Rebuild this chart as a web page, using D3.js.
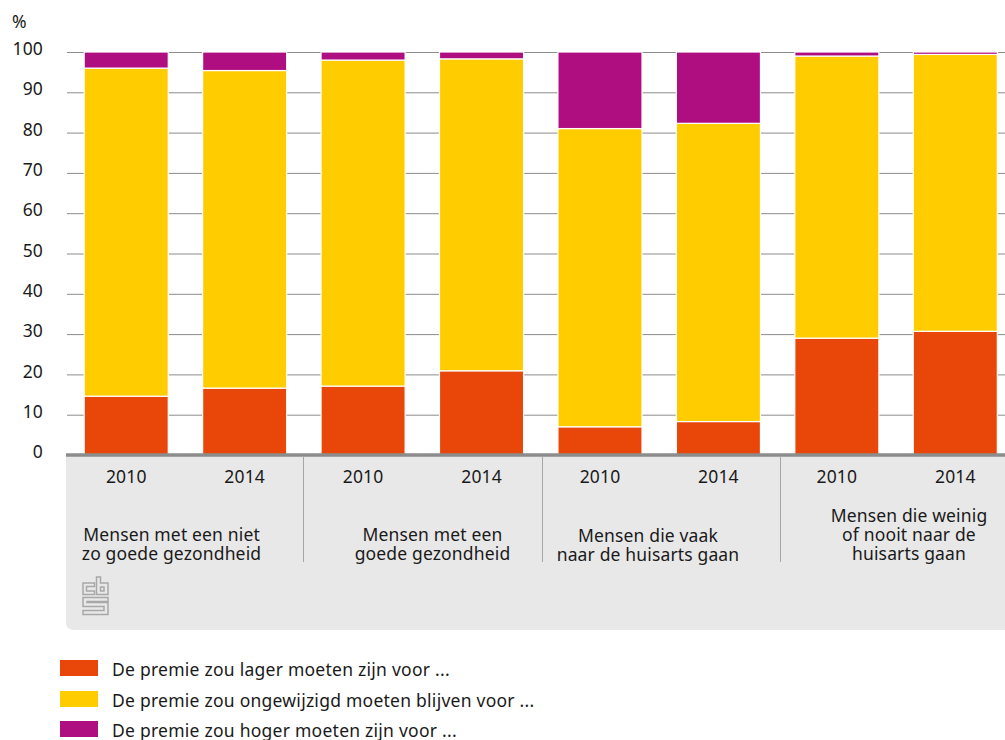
<!DOCTYPE html>
<html>
<head>
<meta charset="utf-8">
<script src="https://cdn.jsdelivr.net/npm/d3@7"></script>
<style>
  html, body { margin: 0; padding: 0; background: #fff; overflow: hidden; }
  text { font-family: "Noto Sans", sans-serif; fill: #1a1a1a; font-size: 17.5px; letter-spacing: 0.15px; }
  .legend-label { letter-spacing: 0.25px; }
</style>
</head>
<body>
<script>
// survey answers per bar, in percent
const years = ["2010", "2014", "2010", "2014", "2010", "2014", "2010", "2014"];
const lager = [14.6, 16.6, 17.1, 20.9, 7.0, 8.3, 29.0, 30.7];
const ongewijzigd = [81.4, 78.8, 80.9, 77.4, 74.0, 74.0, 70.0, 68.7];
const hoger = [4.0, 4.6, 2.0, 1.7, 19.0, 17.7, 1.0, 0.6];

const seriesNames = [
  "De premie zou lager moeten zijn voor ...",
  "De premie zou ongewijzigd moeten blijven voor ...",
  "De premie zou hoger moeten zijn voor ..."
];
const seriesColors = ["#e9460a", "#ffcc00", "#af0e80"];
const groupLabels = [
  ["Mensen met een niet", "zo goede gezondheid"],
  ["Mensen met een", "goede gezondheid"],
  ["Mensen die vaak", "naar de huisarts gaan"],
  ["Mensen die weinig", "of nooit naar de", "huisarts gaan"]
];
const yTicks = [0, 10, 20, 30, 40, 50, 60, 70, 80, 90, 100];

const width = 1005, height = 740;
const margin = { top: 52, left: 67, baseline: 455 };

const svg = d3.select("body").append("svg")
  .attr("width", width)
  .attr("height", height)
  .style("display", "block");

const xScale = d3.scaleBand()
  .domain(d3.range(years.length))
  .range([margin.left, 1014.5])
  .paddingInner(0.29)
  .paddingOuter(0.145);

const yScale = d3.scaleLinear()
  .domain([0, 100])
  .range([margin.baseline, margin.top]);

// grey panel under the axis, only the lower left corner is rounded
svg.append("path")
  .attr("d", "M66,456H1005V630H74Q66,630 66,622Z")
  .attr("fill", "#e8e8e8");

// gridlines and value labels
const yAxis = svg.append("g")
  .attr("transform", `translate(${margin.left},0)`)
  .call(d3.axisLeft(yScale).tickValues(yTicks).tickSize(-(width - margin.left)).tickPadding(24));
yAxis.select(".domain").remove();
yAxis.selectAll(".tick line").attr("stroke", "#8c8c8c").attr("stroke-width", 1);
yAxis.selectAll(".tick text")
  .attr("font-size", null)
  .attr("dy", "0.15em");

svg.append("text")
  .attr("x", 12)
  .attr("y", 28)
  .text("%");

// stacked bars
const rows = years.map((y, i) => ({ i, a: lager[i], b: ongewijzigd[i], c: hoger[i] }));
const stacked = d3.stack().keys(["a", "b", "c"])(rows);

svg.selectAll("g.series")
  .data(stacked)
  .enter().append("g")
  .attr("class", "series")
  .attr("fill", (d, i) => seriesColors[i])
  .selectAll("rect")
  .data(d => d)
  .enter().append("rect")
  .attr("x", d => xScale(d.data.i))
  .attr("y", d => yScale(d[1]))
  .attr("width", xScale.bandwidth())
  .attr("height", d => yScale(d[0]) - yScale(d[1]))
  .attr("stroke", "#fff")
  .attr("stroke-width", 1.2);

// thick baseline with the year labels below it
const xAxis = svg.append("g")
  .attr("transform", `translate(0,${margin.baseline})`)
  .call(d3.axisBottom(xScale).tickSize(0).tickPadding(16).tickFormat(i => years[i]));
xAxis.select(".domain").remove();
xAxis.selectAll(".tick text").attr("font-size", null);

svg.append("line")
  .attr("x1", 66).attr("x2", width)
  .attr("y1", margin.baseline).attr("y2", margin.baseline)
  .attr("stroke", "#8c8c8c")
  .attr("stroke-width", 3.5);

// separators between the four groups
[303.5, 542.5, 780.5].forEach(sx => {
  svg.append("line")
    .attr("x1", sx).attr("x2", sx)
    .attr("y1", 457).attr("y2", 562)
    .attr("stroke", "#a6a6a6");
});

// group labels, bottom aligned
const groupCenters = [171.5, 432.5, 648, 909];
const groupBottoms = [559.5, 559.5, 561, 560];
groupLabels.forEach((lines, g) => {
  const t = svg.append("text")
    .attr("text-anchor", "middle");
  lines.forEach((line, k) => {
    t.append("tspan")
      .attr("x", groupCenters[g])
      .attr("y", groupBottoms[g] - (lines.length - 1 - k) * 19)
      .text(line);
  });
});

// cbs logo
const logo = svg.append("g")
  .attr("transform", "translate(83,577)")
  .attr("fill", "none")
  .attr("stroke", "#a8a8a8")
  .attr("stroke-width", 1.5);
logo.append("path").attr("d", "M11.5,6H0V17.5H11.5V14H3.5V9.5H11.5Z");
logo.append("path").attr("d", "M13.5,17.5V0H17.5V6H25V17.5Z");
logo.append("path").attr("d", "M17.5,10H21V14H17.5Z");
logo.append("path").attr("d", "M25,20.5H0V29.5H21V33.5H0V37.5H25V25.5H4V24.5H25Z");

// legend
const legendY = [660, 691, 721];
seriesNames.forEach((name, i) => {
  svg.append("rect")
    .attr("x", 60)
    .attr("y", legendY[i])
    .attr("width", 38)
    .attr("height", 16)
    .attr("fill", seriesColors[i]);
  svg.append("text")
    .attr("class", "legend-label")
    .attr("x", 112)
    .attr("y", legendY[i] + 15.5)
    .text(name);
});
</script>
</body>
</html>
